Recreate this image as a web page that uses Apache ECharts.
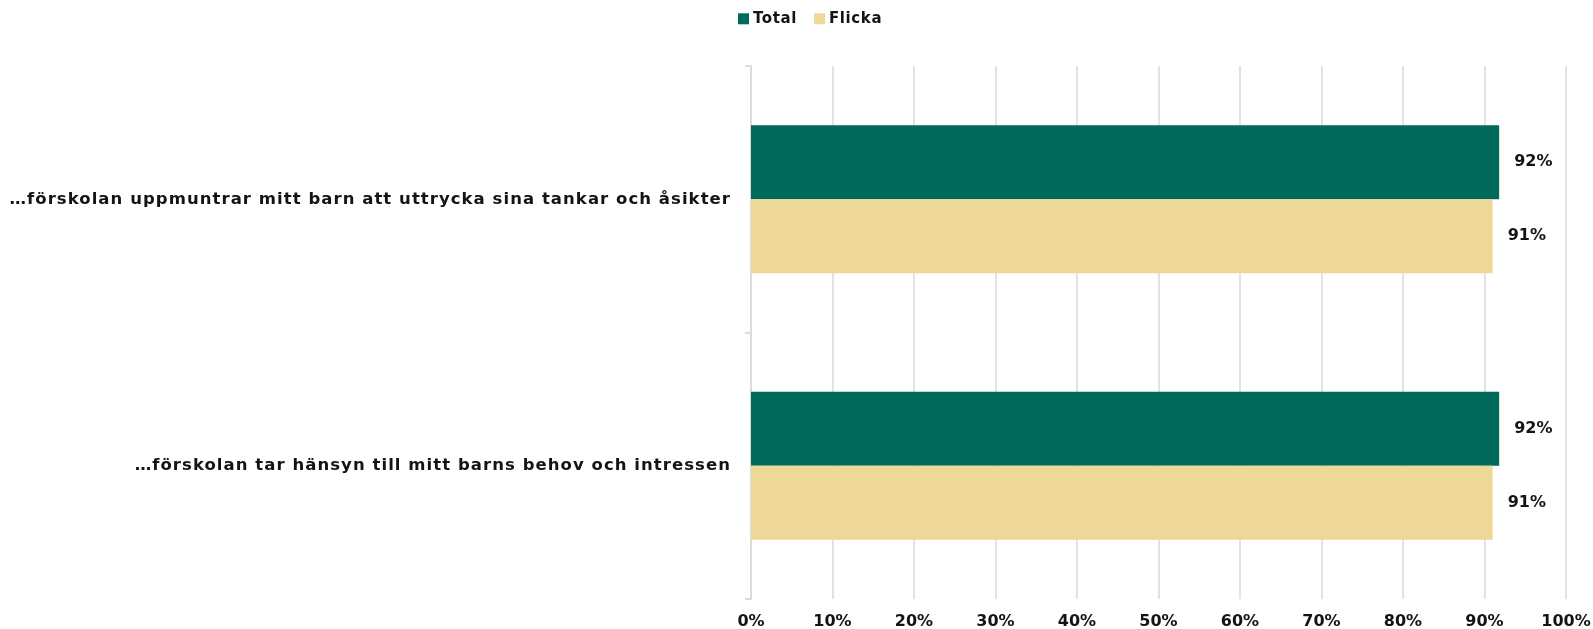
<!DOCTYPE html>
<html>
<head>
<meta charset="utf-8">
<script src="https://cdn.jsdelivr.net/npm/echarts@6/dist/echarts.min.js"></script>
<style>
html,body{margin:0;padding:0;background:#fff;}
#chart{width:1593px;height:629px;}
</style>
</head>
<body>
<div id="chart"></div>
<script>
// slightly tracked category labels, as in the reference typography
(function () {
  const proto = CanvasRenderingContext2D.prototype;
  const d = Object.getOwnPropertyDescriptor(proto, 'font');
  if (d && d.set && ('letterSpacing' in proto)) {
    Object.defineProperty(proto, 'font', {
      configurable: true,
      get() { return d.get.call(this); },
      set(v) {
        d.set.call(this, v);
        const s = String(v);
        this.letterSpacing = s.indexOf('sans-serif') >= 0 ? '1.05px' : (s.indexOf('Verdana') >= 0 ? '0.6px' : '0px');
      }
    });
  }
})();

const categories = [
  "…förskolan uppmuntrar mitt barn att uttrycka sina tankar och åsikter",
  "…förskolan tar hänsyn till mitt barns behov och intressen"
];
const seriesNames = ["Total", "Flicka"];
const totalValues = [0.918, 0.918];
const flickaValues = [0.910, 0.910];
const xTicks = [0, 0.1, 0.2, 0.3, 0.4, 0.5, 0.6, 0.7, 0.8, 0.9, 1.0];

const FONT = "DejaVu Sans";
const CAT_FONT = "DejaVu Sans, sans-serif";
const LEG_FONT = "DejaVu Sans, Verdana";
const TXT = "#141414";
const chart = echarts.init(document.getElementById('chart'), null, {renderer: 'canvas'});
const pct = v => Math.round(v * 100) + '%';
const labelCfg = {
  show: true, position: 'right', distance: 15,
  fontFamily: FONT, fontWeight: 'bold', fontSize: 16, color: TXT,
  formatter: p => pct(p.value)
};
chart.setOption({
  animation: false,
  legend: {
    data: seriesNames,
    left: 738, top: 11, padding: 0,
    icon: 'rect', itemWidth: 11, itemHeight: 11, itemGap: 17,
    textStyle: {fontFamily: LEG_FONT, fontWeight: 'bold', fontSize: 15, color: TXT, padding: [0,0,0,-1]}
  },
  grid: {left: 751, right: 27, top: 66, bottom: 30, outerBoundsMode: 'none', containLabel: false},
  xAxis: {
    type: 'value', min: xTicks[0], max: xTicks[xTicks.length - 1], interval: 0.1,
    axisLine: {show: false}, axisTick: {show: false},
    splitLine: {show: true, lineStyle: {color: '#e3e3e3', width: 2}},
    axisLabel: {margin: 15, fontFamily: FONT, fontWeight: 'bold', fontSize: 16, color: TXT, formatter: v => pct(v)}
  },
  yAxis: {
    type: 'category', inverse: true, data: categories,
    axisLine: {show: true, lineStyle: {color: '#dcdcdc', width: 2}},
    axisTick: {show: true, length: 6, lineStyle: {color: '#dcdcdc', width: 2}},
    axisLabel: {margin: 20, fontFamily: CAT_FONT, fontWeight: 'bold', fontSize: 16.5, color: TXT}
  },
  series: [
    {name: seriesNames[0], type: 'bar', data: totalValues, barWidth: 74, barGap: '0%',
     itemStyle: {color: '#006B5A'}, label: labelCfg},
    {name: seriesNames[1], type: 'bar', data: flickaValues, barWidth: 74, barGap: '0%',
     itemStyle: {color: '#EDD897'}, label: labelCfg}
  ]
});
</script>
</body>
</html>
